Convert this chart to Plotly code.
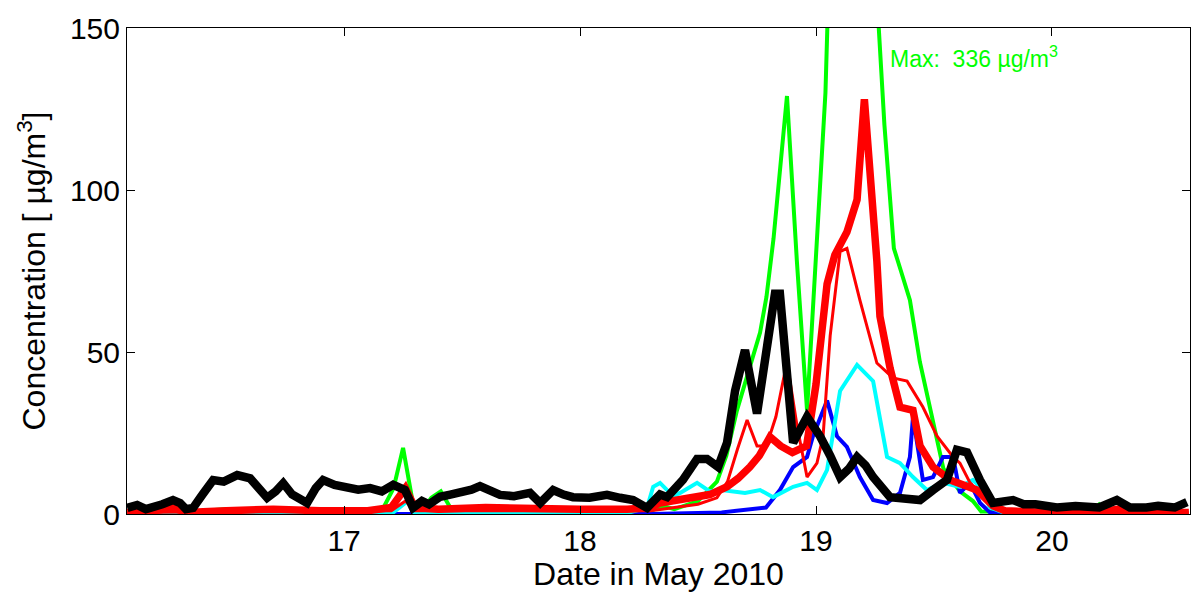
import plotly.graph_objects as go

# ---------------- data (day of May 2010, concentration in ug/m3) ----------------
black_x = [16.081, 16.123, 16.16, 16.191, 16.23, 16.275, 16.305, 16.33, 16.36, 16.40, 16.445, 16.49,
           16.547, 16.602, 16.64, 16.674, 16.71, 16.742, 16.78, 16.843, 16.88, 16.911, 16.96, 17.013,
           17.06, 17.11, 17.16, 17.208, 17.258, 17.292, 17.33, 17.36, 17.407, 17.45, 17.50, 17.54,
           17.576, 17.62, 17.661, 17.72, 17.788, 17.831, 17.886, 17.93, 17.97, 18.04, 18.114, 18.17,
           18.225, 18.284, 18.339, 18.369, 18.394, 18.436, 18.496, 18.538, 18.585, 18.623, 18.657,
           18.699, 18.75, 18.826, 18.847, 18.903, 18.962, 19.017, 19.06, 19.102, 19.14, 19.174, 19.21,
           19.242, 19.314, 19.38, 19.441, 19.496, 19.555, 19.597, 19.64, 19.695, 19.75, 19.835, 19.88,
           19.93, 20.021, 20.10, 20.20, 20.275, 20.33, 20.40, 20.45, 20.52, 20.572]
black_y = [1.9, 2.8, 1.5, 1.9, 3.0, 4.3, 3.4, 1.5, 1.9, 6.0, 10.5, 10.0,
           12.0, 11.0, 8.0, 5.0, 7.0, 9.5, 6.0, 3.4, 8.0, 10.5, 9.0, 8.4,
           7.5, 8.0, 7.0, 9.0, 7.4, 1.9, 4.0, 3.0, 5.3, 6.0, 6.5, 7.5,
           8.6, 7.0, 5.9, 5.5, 6.5, 3.4, 7.4, 6.0, 5.2, 5.0, 5.9, 5.0,
           4.3, 1.9, 6.0, 5.2, 7.0, 10.5, 17.0, 17.0, 14.5, 22.0, 38.0,
           50.6, 31.0, 68.0, 68.0, 22.0, 30.0, 24.0, 18.0, 11.4, 14.0, 17.6, 15.0,
           11.4, 5.2, 5.0, 4.3, 7.4, 10.5, 19.8, 19.0, 10.5, 3.4, 4.3, 3.0,
           3.0, 2.0, 2.5, 2.0, 4.3, 2.0, 2.0, 2.5, 2.0, 3.7]

green_x = [16.081, 16.30, 16.50, 16.70, 16.90, 17.10, 17.16, 17.21, 17.25, 17.29, 17.33, 17.37,
           17.41, 17.45, 17.50, 17.70, 18.00, 18.30, 18.35, 18.40, 18.50, 18.58, 18.62, 18.665,
           18.71, 18.763, 18.79, 18.82, 18.877, 18.919, 18.962, 19.00, 19.04, 19.08, 19.125,
           19.17, 19.21, 19.25, 19.29, 19.33, 19.36, 19.398, 19.44, 19.50, 19.54, 19.61, 19.665,
           19.70, 20.00, 20.16, 20.20, 20.24, 20.50, 20.58]
green_y = [0.5, 0.5, 1.5, 0.8, 0.5, 0.5, 1.0, 8.0, 20.4, 4.0, 1.0, 5.0,
           7.0, 2.0, 1.0, 1.0, 0.5, 1.0, 2.5, 1.5, 4.0, 10.0, 18.0, 32.0,
           43.0, 56.0, 67.0, 85.0, 129.0, 78.0, 32.0, 78.0, 130.0, 230.0, 336.0,
           290.0, 230.0, 170.0, 120.0, 82.0, 75.0, 66.0, 47.0, 28.0, 14.0, 7.0, 4.0,
           0.8, 0.5, 0.5, 3.0, 0.5, 0.5, 0.5]

red_thick_x = [16.081, 16.20, 16.27, 16.33, 16.50, 16.70, 16.90, 17.10, 17.20, 17.26, 17.30, 17.40,
               17.60, 17.80, 18.00, 18.20, 18.30, 18.339, 18.40, 18.47, 18.55, 18.623, 18.67, 18.72,
               18.76, 18.805, 18.85, 18.90, 18.96, 19.00, 19.047, 19.08, 19.131, 19.174, 19.205,
               19.258, 19.271, 19.314, 19.356, 19.411, 19.441, 19.496, 19.568, 19.682, 19.75, 19.80,
               20.00, 20.10, 20.20, 20.28, 20.35, 20.58]
red_thick_y = [0.5, 1.0, 2.0, 0.5, 1.0, 1.5, 1.0, 1.0, 2.0, 8.0, 2.0, 1.5,
               2.0, 1.5, 1.5, 1.5, 2.0, 3.4, 4.0, 5.0, 6.0, 8.4, 11.0, 14.5,
               18.0, 23.8, 21.0, 19.0, 21.0, 40.0, 71.0, 80.0, 87.0, 97.0, 128.0,
               78.0, 61.0, 45.0, 33.0, 32.0, 21.0, 14.5, 10.5, 7.4, 2.5, 1.0,
               0.5, 1.0, 0.5, 1.5, 0.5, 0.5]

red_thin_x = [16.081, 17.20, 17.26, 17.30, 18.30, 18.50, 18.58, 18.625, 18.667, 18.708, 18.75, 18.79,
              18.83, 18.877, 18.92, 18.962, 19.004, 19.03, 19.06, 19.102, 19.131, 19.186, 19.258,
              19.326, 19.386, 19.453, 19.513, 19.581, 19.61, 19.653, 19.695, 19.75, 19.80, 20.58]
red_thin_y = [0.5, 1.0, 4.0, 1.0, 1.0, 3.0, 5.0, 10.0, 20.0, 29.0, 21.0, 21.0,
              30.0, 47.0, 27.0, 11.4, 15.7, 24.0, 55.0, 81.0, 82.0, 66.0, 46.6,
              42.0, 41.0, 33.0, 24.0, 17.6, 15.7, 9.6, 6.5, 2.0, 0.5, 0.5]

cyan_x = [16.081, 17.20, 17.27, 17.30, 18.20, 18.284, 18.31, 18.339, 18.394, 18.424, 18.496, 18.55,
          18.60, 18.699, 18.763, 18.818, 18.903, 18.962, 19.004, 19.047, 19.102, 19.174, 19.242,
          19.271, 19.301, 19.356, 19.411, 19.47, 19.538, 19.61, 19.665, 19.695, 19.737, 19.80, 20.58]
cyan_y = [0.0, 0.0, 4.0, 0.0, 0.3, 2.0, 8.4, 9.6, 5.5, 6.5, 9.6, 7.0,
          7.4, 6.5, 7.4, 5.2, 8.4, 9.6, 7.4, 13.6, 38.0, 46.0, 41.0,
          30.0, 17.6, 15.7, 11.4, 7.4, 9.6, 8.4, 10.5, 8.4, 2.0, 0.3, 0.3]

blue_x = [16.081, 17.35, 17.40, 17.45, 18.30, 18.60, 18.788, 18.847, 18.903, 18.962, 18.987, 19.047,
          19.089, 19.131, 19.186, 19.242, 19.301, 19.356, 19.398, 19.411, 19.453, 19.496, 19.538,
          19.581, 19.61, 19.653, 19.695, 19.737, 20.58]
blue_y = [0.0, 0.0, 1.5, 0.0, 0.0, 0.5, 2.0, 7.4, 14.5, 17.6, 24.0, 35.0,
          24.0, 20.7, 11.4, 4.3, 3.4, 6.5, 17.6, 30.0, 10.5, 11.4, 17.6,
          17.6, 6.5, 9.6, 3.4, 0.5, 0.0]

x_ticks = [17, 18, 19, 20]
y_ticks = [0, 50, 100, 150]
max_label = "Max:  336 \u00b5g/m<sup>3</sup>"

# ---------------- figure ----------------
fig = go.Figure()
series = [
    (green_x, green_y, "#00ff00", 4),
    (blue_x, blue_y, "#0000ff", 4),
    (cyan_x, cyan_y, "#00ffff", 4),
    (red_thin_x, red_thin_y, "#ff0000", 3),
    (red_thick_x, red_thick_y, "#ff0000", 7.5),
    (black_x, black_y, "#000000", 8.5),
]
for xs, ys, col, w in series:
    fig.add_trace(go.Scatter(x=xs, y=ys, mode="lines",
                             line=dict(color=col, width=w, shape="linear"),
                             showlegend=False, hoverinfo="skip"))

fig.add_annotation(x=19.305, y=141, text=max_label, showarrow=False,
                   xanchor="left", yanchor="middle",
                   font=dict(family="Liberation Sans, Arial", size=23, color="#00ff00"))

fig.update_layout(
    width=1191, height=592,
    margin=dict(l=127, r=1, t=28, b=78),
    paper_bgcolor="white", plot_bgcolor="white",
    font=dict(family="Liberation Sans, Arial", size=30, color="black"),
    xaxis=dict(range=[16.08, 20.585], tickvals=x_ticks, ticktext=[str(t) for t in x_ticks],
               showgrid=False, zeroline=False, showline=True, linecolor="black", linewidth=1,
               mirror="ticks", ticks="inside", ticklen=8, tickcolor="black",
               tickfont=dict(size=30), automargin=False,
               title=dict(text="Date in May 2010", font=dict(size=32), standoff=2)),
    yaxis=dict(range=[0, 150], tickvals=y_ticks, ticktext=[str(t) for t in y_ticks],
               showgrid=False, zeroline=False, showline=True, linecolor="black", linewidth=1,
               mirror="ticks", ticks="inside", ticklen=8, tickcolor="black",
               tickfont=dict(size=30), automargin=False,
               title=dict(text="Concentration [ \u00b5g/m<sup>3</sup>]", font=dict(size=32), standoff=14)),
)

fig.write_html("out.html")
